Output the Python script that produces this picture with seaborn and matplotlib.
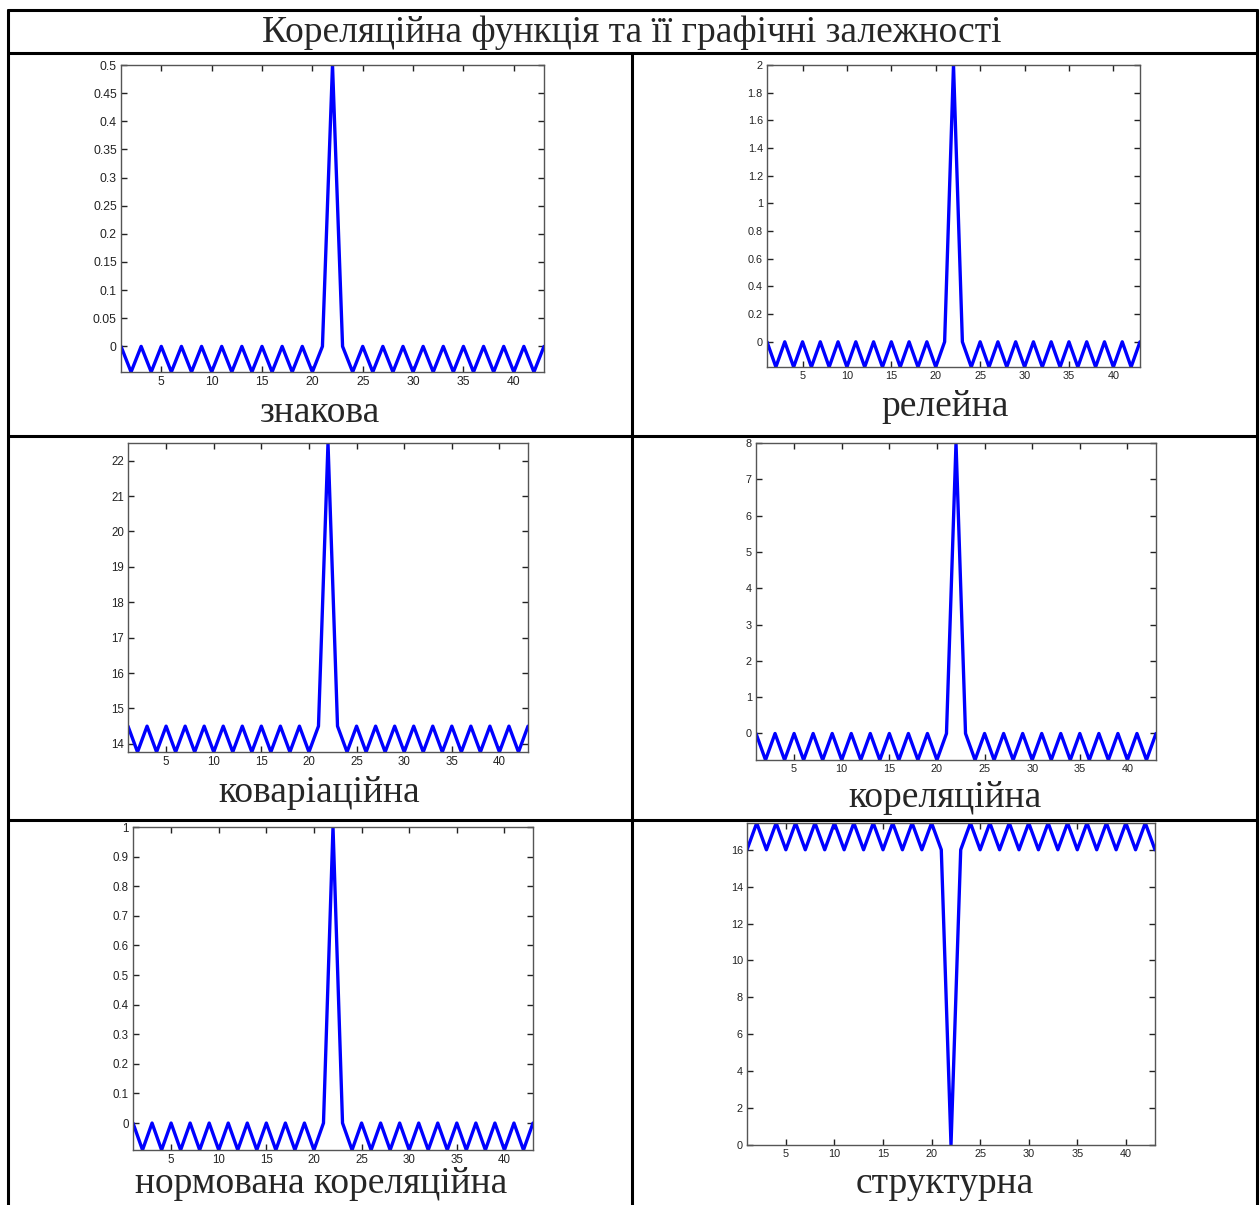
import matplotlib
matplotlib.use("Agg")
import matplotlib.pyplot as plt
from matplotlib.lines import Line2D
import seaborn as sns
import pandas as pd

sns.set_style("white")
plt.rcParams['font.family'] = ['Liberation Sans', 'DejaVu Sans']

# ---- data ----
lags = list(range(1, 44))

sign_vals = [0, -0.0455, 0, -0.0455, 0, -0.0455, 0, -0.0455, 0, -0.0455,
             0, -0.0455, 0, -0.0455, 0, -0.0455, 0, -0.0455, 0, -0.0455,
             0, 0.5, 0, -0.0455, 0, -0.0455, 0, -0.0455, 0, -0.0455,
             0, -0.0455, 0, -0.0455, 0, -0.0455, 0, -0.0455, 0, -0.0455,
             0, -0.0455, 0]

relay_vals = [0, -0.182, 0, -0.182, 0, -0.182, 0, -0.182, 0, -0.182,
              0, -0.182, 0, -0.182, 0, -0.182, 0, -0.182, 0, -0.182,
              0, 2.0, 0, -0.182, 0, -0.182, 0, -0.182, 0, -0.182,
              0, -0.182, 0, -0.182, 0, -0.182, 0, -0.182, 0, -0.182,
              0, -0.182, 0]

cov_vals = [14.5, 13.77, 14.5, 13.77, 14.5, 13.77, 14.5, 13.77, 14.5, 13.77,
            14.5, 13.77, 14.5, 13.77, 14.5, 13.77, 14.5, 13.77, 14.5, 13.77,
            14.5, 22.5, 14.5, 13.77, 14.5, 13.77, 14.5, 13.77, 14.5, 13.77,
            14.5, 13.77, 14.5, 13.77, 14.5, 13.77, 14.5, 13.77, 14.5, 13.77,
            14.5, 13.77, 14.5]

corr_vals = [0, -0.73, 0, -0.73, 0, -0.73, 0, -0.73, 0, -0.73,
             0, -0.73, 0, -0.73, 0, -0.73, 0, -0.73, 0, -0.73,
             0, 8.0, 0, -0.73, 0, -0.73, 0, -0.73, 0, -0.73,
             0, -0.73, 0, -0.73, 0, -0.73, 0, -0.73, 0, -0.73,
             0, -0.73, 0]

norm_vals = [0, -0.091, 0, -0.091, 0, -0.091, 0, -0.091, 0, -0.091,
             0, -0.091, 0, -0.091, 0, -0.091, 0, -0.091, 0, -0.091,
             0, 1.0, 0, -0.091, 0, -0.091, 0, -0.091, 0, -0.091,
             0, -0.091, 0, -0.091, 0, -0.091, 0, -0.091, 0, -0.091,
             0, -0.091, 0]

struct_vals = [16, 17.45, 16, 17.45, 16, 17.45, 16, 17.45, 16, 17.45,
               16, 17.45, 16, 17.45, 16, 17.45, 16, 17.45, 16, 17.45,
               16, 0, 16, 17.45, 16, 17.45, 16, 17.45, 16, 17.45,
               16, 17.45, 16, 17.45, 16, 17.45, 16, 17.45, 16, 17.45,
               16, 17.45, 16]

title_text = "Кореляційна функція та її графічні залежності"
panel_names = ["знакова", "релейна", "коваріаційна", "кореляційна",
               "нормована кореляційна", "структурна"]
x_ticks = [5, 10, 15, 20, 25, 30, 35, 40]

W, H = 1260, 1205
fig = plt.figure(figsize=(W / 100, H / 100), dpi=100)
fig.patch.set_facecolor("white")


def px_axes(l, t, r, b):
    return fig.add_axes([l / W, 1 - b / H, (r - l) / W, (b - t) / H])


panels = [
    # values, box(l,t,r,b), ylim, yticks, ytick labels, fontsize, label pos
    (sign_vals, (121, 65, 544, 372), (-0.0455, 0.5),
     [0, 0.05, 0.1, 0.15, 0.2, 0.25, 0.3, 0.35, 0.4, 0.45, 0.5],
     ["0", "0.05", "0.1", "0.15", "0.2", "0.25", "0.3", "0.35", "0.4", "0.45", "0.5"],
     8.8, (320, 413)),
    (relay_vals, (767, 65, 1140, 367), (-0.182, 2.0),
     [0, 0.2, 0.4, 0.6, 0.8, 1.0, 1.2, 1.4, 1.6, 1.8, 2.0],
     ["0", "0.2", "0.4", "0.6", "0.8", "1", "1.2", "1.4", "1.6", "1.8", "2"],
     7.8, (945, 407)),
    (cov_vals, (128, 443, 528, 752), (13.77, 22.5),
     [14, 15, 16, 17, 18, 19, 20, 21, 22],
     ["14", "15", "16", "17", "18", "19", "20", "21", "22"],
     8.3, (319, 793)),
    (corr_vals, (756, 443, 1156, 760), (-0.73, 8.0),
     [0, 1, 2, 3, 4, 5, 6, 7, 8],
     ["0", "1", "2", "3", "4", "5", "6", "7", "8"],
     7.8, (945, 798)),
    (norm_vals, (133, 827, 533, 1150), (-0.091, 1.0),
     [0, 0.1, 0.2, 0.3, 0.4, 0.5, 0.6, 0.7, 0.8, 0.9, 1.0],
     ["0", "0.1", "0.2", "0.3", "0.4", "0.5", "0.6", "0.7", "0.8", "0.9", "1"],
     8.3, (321, 1184)),
    (struct_vals, (747, 823, 1155, 1145), (0, 17.45),
     [0, 2, 4, 6, 8, 10, 12, 14, 16],
     ["0", "2", "4", "6", "8", "10", "12", "14", "16"],
     7.8, (945, 1184)),
]

for (vals, box, ylim, yt, ytl, fs, lpos), name in zip(panels, panel_names):
    ax = px_axes(*box)
    df = pd.DataFrame({"lag": lags, "value": vals})
    sns.lineplot(data=df, x="lag", y="value", ax=ax, color="#0000ff",
                 linewidth=2.4, clip_on=True)
    ax.set_xlim(1, 43)
    ax.set_ylim(*ylim)
    ax.set_xticks(x_ticks)
    ax.set_xticklabels([str(v) for v in x_ticks])
    ax.set_yticks(yt)
    ax.set_yticklabels(ytl)
    ax.set_xlabel("")
    ax.set_ylabel("")
    ax.tick_params(direction="in", length=4, width=1, colors="#222222",
                   labelsize=fs, top=True, right=True, bottom=True, left=True,
                   pad=3)
    for sp in ax.spines.values():
        sp.set_color("#555555")
        sp.set_linewidth(1.0)
        sp.set_visible(True)
    ax.set_facecolor("white")
    fig.text(lpos[0] / W, 1 - lpos[1] / H, name, ha="center", va="center",
             fontsize=27, family=["Liberation Serif", "DejaVu Serif"])

# title
fig.text(632 / W, 1 - 33 / H, title_text, ha="center", va="center",
         fontsize=27, family=["Liberation Serif", "DejaVu Serif"])

# table grid
def hline(y, x0=8, x1=1257):
    fig.add_artist(Line2D([x0 / W, x1 / W], [1 - y / H, 1 - y / H],
                          color="black", lw=2.2, transform=fig.transFigure))


def vline(x, y0, y1):
    fig.add_artist(Line2D([x / W, x / W], [1 - y0 / H, 1 - y1 / H],
                          color="black", lw=2.2, transform=fig.transFigure))


hline(10)
hline(53)
hline(436)
hline(820)
vline(8, 10, 1205)
vline(1257, 10, 1205)
vline(632, 53, 1205)

fig.savefig("out.png", dpi=100, facecolor="white")
